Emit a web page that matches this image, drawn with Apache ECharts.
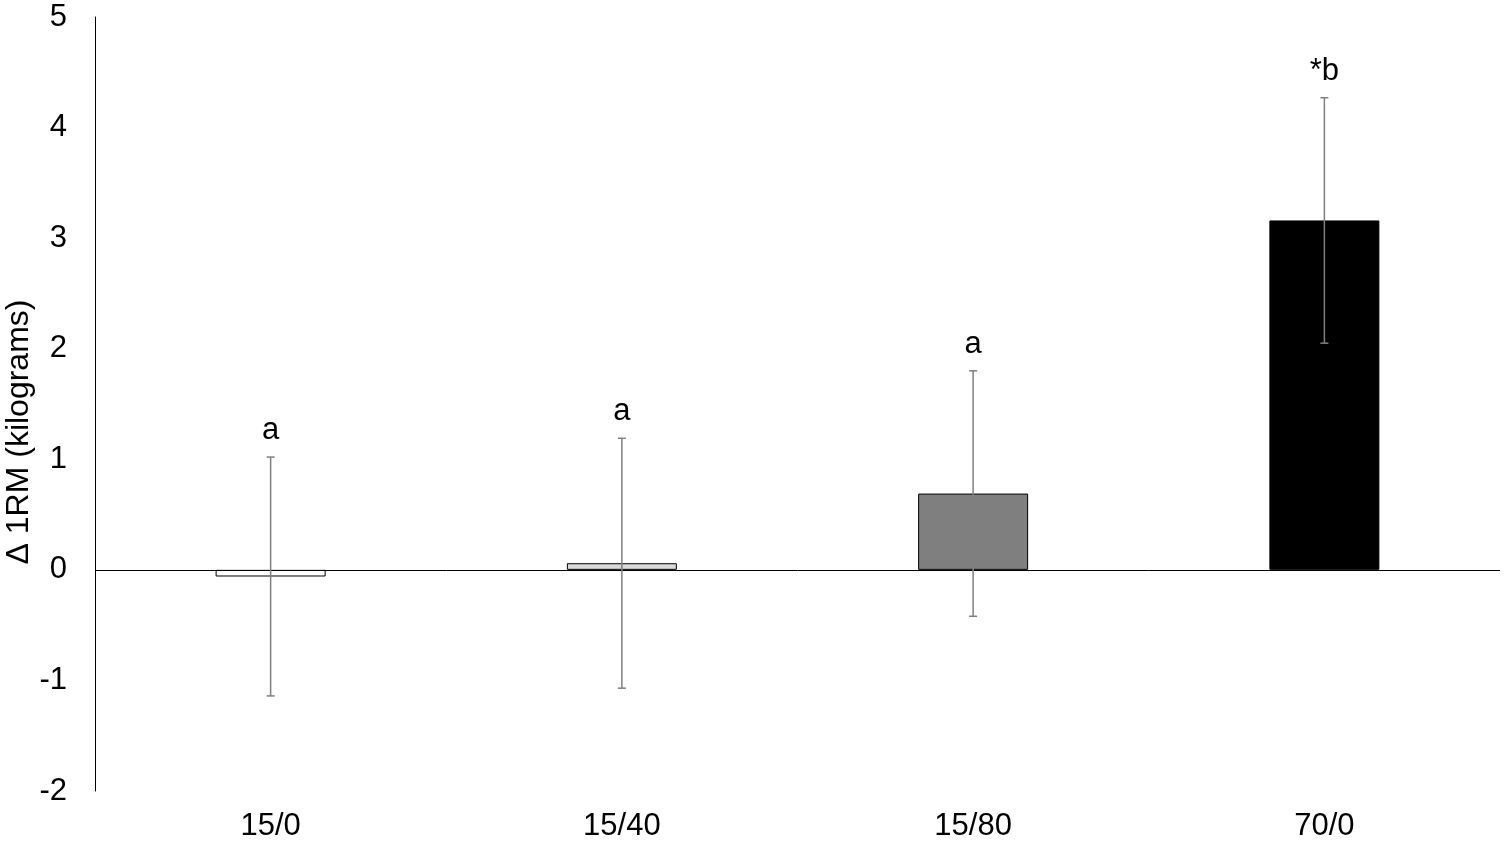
<!DOCTYPE html>
<html>
<head>
<meta charset="utf-8">
<script src="https://cdn.jsdelivr.net/npm/echarts@6/dist/echarts.min.js"></script>
<style>
  html, body { margin: 0; padding: 0; background: #fff; }
  #chart { width: 1506px; height: 845px; }
</style>
</head>
<body>
<div id="chart"></div>
<script>
const categories = ['15/0', '15/40', '15/80', '70/0']
const means = [-0.06, 0.06, 0.69, 3.16]
const sds = [1.08, 1.13, 1.11, 1.11]
const letters = ['a', 'a', 'a', '*b']
const barColors = ['#ffffff', '#d9d9d9', '#7f7f7f', '#000000']
const yTicks = { min: -2, max: 5, interval: 1 }

const font = '"Liberation Sans", Arial, sans-serif'

const chart = echarts.init(document.getElementById('chart'))

const errorData = means.map((m, i) => [i, m - sds[i], m + sds[i]])

const option = {
  animation: false,
  grid: { left: 95, right: 6, top: 17, bottom: 54, outerBoundsMode: 'none' },
  xAxis: {
    type: 'category',
    data: categories,
    axisLine: { show: false, onZero: false },
    axisTick: { show: false },
    axisLabel: { color: '#000', fontSize: 31, fontFamily: font, margin: 20 },
  },
  yAxis: {
    type: 'value',
    min: yTicks.min,
    max: yTicks.max,
    interval: yTicks.interval,
    name: 'Δ 1RM (kilograms)',
    nameLocation: 'middle',
    nameGap: 60,
    nameMoveOverlap: false,
    nameTextStyle: { color: '#000', fontSize: 32, fontFamily: font, padding: [0, 56, 0, 0] },
    axisLine: { show: true, lineStyle: { color: '#000', width: 1 } },
    axisTick: { show: false },
    splitLine: { show: false },
    axisLabel: { color: '#000', fontSize: 31, fontFamily: font, margin: 28 },
  },
  series: [
    {
      type: 'bar',
      barWidth: 110,
      data: means.map((v, i) => ({
        value: v,
        itemStyle: { color: barColors[i], borderColor: '#000', borderWidth: 1 },
      })),
      markLine: {
        silent: true,
        symbol: 'none',
        label: { show: false },
        lineStyle: { color: '#000', width: 1, type: 'solid' },
        data: [{ yAxis: 0 }],
      },
    },
    {
      type: 'custom',
      z: 5,
      data: errorData,
      renderItem: (params, api) => {
        const x = api.value(0)
        const lo = api.coord([x, api.value(1)])
        const hi = api.coord([x, api.value(2)])
        const cap = 4
        const style = { stroke: '#7f7f7f', lineWidth: 1.5 }
        return {
          type: 'group',
          children: [
            { type: 'line', shape: { x1: hi[0], y1: hi[1], x2: lo[0], y2: lo[1] }, style },
            { type: 'line', shape: { x1: hi[0] - cap, y1: hi[1], x2: hi[0] + cap, y2: hi[1] }, style },
            { type: 'line', shape: { x1: lo[0] - cap, y1: lo[1], x2: lo[0] + cap, y2: lo[1] }, style },
            {
              type: 'text',
              style: {
                x: hi[0],
                y: hi[1] - 11,
                text: letters[params.dataIndex],
                fill: '#000',
                font: '31px ' + font,
                textAlign: 'center',
                textVerticalAlign: 'bottom',
              },
            },
          ],
        }
      },
    },
  ],
}

chart.setOption(option)
window.addEventListener('resize', () => chart.resize())
</script>
</body>
</html>
